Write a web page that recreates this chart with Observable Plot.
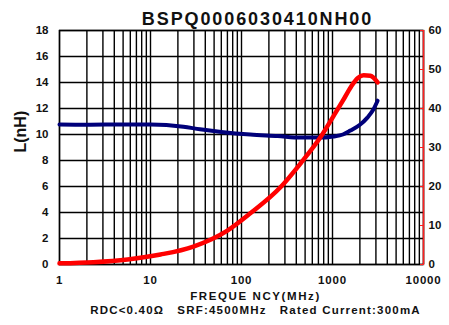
<!DOCTYPE html>
<html>
<head>
<meta charset="utf-8">
<script src="https://cdn.jsdelivr.net/npm/d3@7"></script>
<script src="https://cdn.jsdelivr.net/npm/@observablehq/plot@0.6"></script>
<style>
  html, body { margin: 0; padding: 0; background: #fff; }
  svg { font-family: "Liberation Sans", Arial, sans-serif; }
</style>
</head>
<body>
<div id="chart"></div>
<script>
const title = "BSPQ0006030410NH00";
const xLabel = "FREQUE NCY(MHz)";
const caption = "RDC<0.40Ω   SRF:4500MHz   Rated Current:300mA";
const yLabel = "L(nH)";

const freqL = [1, 2, 5, 10, 23, 35, 60, 125, 250, 445, 700, 1022, 1300, 1570, 2000, 2418, 2800, 3130];
const inductance = [10.77, 10.75, 10.77, 10.77, 10.6, 10.4, 10.2, 10.0, 9.88, 9.76, 9.76, 9.85, 10.0, 10.3, 10.75, 11.3, 11.9, 12.6];

const freqQ = [1, 2.36, 5.6, 12.9, 29.6, 70, 126, 268, 445, 736, 1022, 1300, 1600, 1900, 2199, 2600, 3130];
const qValues = [0.3, 0.6, 1.3, 2.56, 4.6, 8.7, 13.2, 19.8, 25.9, 32.6, 38, 42, 45.6, 47.8, 48.5, 48.4, 46.7];

const xTicks = [1, 10, 100, 1000, 10000];
const yTicks = [0, 2, 4, 6, 8, 10, 12, 14, 16, 18];
const qTicks = [0, 10, 20, 30, 40, 50, 60];

const lMax = 18, qMax = 60;
const q2l = q => q * lMax / qMax;

const gridX = [];
for (let d = 1; d < 10000; d *= 10) for (let k = 1; k <= 9; k++) gridX.push(d * k);
gridX.push(10000);

const lData = freqL.map((f, i) => ({f, v: inductance[i]}));
const qData = freqQ.map((f, i) => ({f, v: q2l(qValues[i])}));

const chart = Plot.plot({
  width: 449,
  height: 325,
  marginTop: 30,
  marginBottom: 61,
  marginLeft: 59,
  marginRight: 26,
  style: {fontFamily: "'Liberation Sans', Arial, sans-serif", background: "#fff"},
  x: {type: "log", domain: [1, 10000]},
  y: {domain: [0, lMax]},
  marks: [
    Plot.ruleX(gridX, {stroke: "#000", strokeWidth: 1.4}),
    Plot.ruleY(yTicks, {stroke: "#000", strokeWidth: 1.4}),
    Plot.frame({stroke: "#000", strokeWidth: 1.4}),
    Plot.ruleX([10000], {stroke: "#ff2020", strokeWidth: 1.5}),
    Plot.axisX(xTicks, {tickSize: 0, tickPadding: 11, fontSize: 11.5, fontWeight: "bold", fill: "#111", tickFormat: d => String(d), label: null}),
    Plot.axisY(yTicks, {tickSize: 0, tickPadding: 11, fontSize: 11.5, fontWeight: "bold", fill: "#111", label: null}),
    Plot.axisY(qTicks.map(q2l), {anchor: "right", tickSize: -4, stroke: "#ff2020", tickPadding: 9, fontSize: 11.5, fontWeight: "bold", fill: "#111", tickFormat: d => String(Math.round(d * qMax / lMax)), label: null}),
    Plot.line(lData, {x: "f", y: "v", stroke: "#00007a", strokeWidth: 4, curve: "monotone-x"}),
    Plot.line(qData, {x: "f", y: "v", stroke: "#ff0000", strokeWidth: 4.5, curve: "monotone-x"}),
    Plot.text([title], {frameAnchor: "top", dy: -18, dx: 16, fontSize: 18, fontWeight: "bold", fill: "#111"}),
    Plot.text([yLabel], {frameAnchor: "left", dx: -39, dy: 5, rotate: -90, fontSize: 16, fontWeight: "bold", fill: "#111"}),
    Plot.text([xLabel], {frameAnchor: "bottom", dy: 35, dx: 14, fontSize: 11.5, fontWeight: "bold", fill: "#111"}),
    Plot.text([caption], {frameAnchor: "bottom", dy: 49, dx: 14, fontSize: 11.5, fontWeight: "bold", fill: "#111"})
  ]
});
const spacing = new Map([[title, 1.9], [xLabel, 1.6], [caption, 1.2]]);
d3.select(chart).selectAll("text").each(function() {
  const t = this.textContent;
  if (spacing.has(t)) d3.select(this).attr("letter-spacing", spacing.get(t));
});
d3.select(chart).selectAll("[aria-label='x-axis tick label'] text").attr("letter-spacing", 0.8);
document.getElementById("chart").appendChild(chart);
</script>
</body>
</html>
